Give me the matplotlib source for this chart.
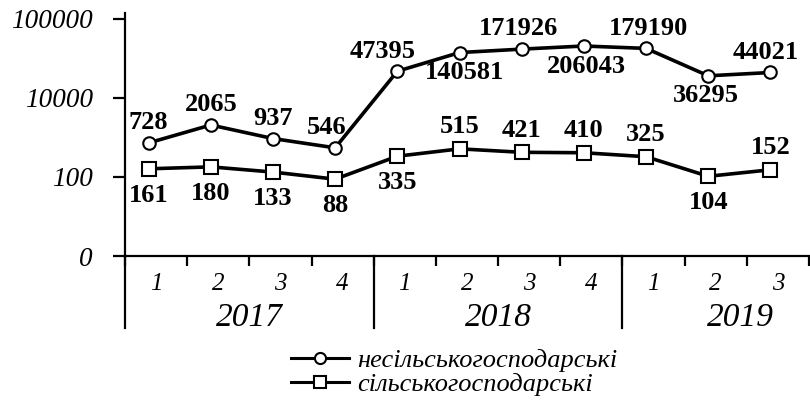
import matplotlib
matplotlib.use("Agg")
import matplotlib.pyplot as plt
from matplotlib.lines import Line2D

plt.rcParams['font.family'] = ['Liberation Serif', 'DejaVu Serif']

quarters = ["1", "2", "3", "4", "1", "2", "3", "4", "1", "2", "3"]
years = ["2017", "2018", "2019"]
year_quarters = [4, 4, 3]
non_agri = [728, 2065, 937, 546, 47395, 140581, 171926, 206043, 179190, 36295, 44021]
agri = [161, 180, 133, 88, 335, 515, 421, 410, 325, 104, 152]
ytick_vals = [1, 100, 10000, 1000000]
ytick_labels = ["0", "100", "10000", "100000"]
series_labels = ["несільськогосподарські", "сільськогосподарські"]

# label placement: +1 above, -1 below
non_agri_pos = [1, 1, 1, 1, 1, -1, 1, -1, 1, -1, 1]
agri_pos = [-1, -1, -1, -1, -1, 1, 1, 1, 1, -1, 1]
non_agri_dx = [0, 0, 0, -9, -15, 5, -3, 2, 2, -2, -5]

W, H = 810, 400
fig = plt.figure(figsize=(W / 100, H / 100), dpi=100)
ax = fig.add_axes([125 / W, (H - 256) / H, 684 / W, (256 - 13) / H])
ax.set_yscale('log')
ax.set_xlim(0, 11)
ax.set_ylim(1, 1.41e6)

xs = [i + 0.38 for i in range(len(quarters))]
ax.plot(xs, non_agri, color='black', lw=2.6, marker='o', ms=9, mfc='white',
        mec='black', mew=1.5, label=series_labels[0], clip_on=False, zorder=3)
ax.plot(xs, agri, color='black', lw=2.6, marker='s', ms=10, mfc='white',
        mec='black', mew=1.5, label=series_labels[1], clip_on=False, zorder=3)

lab_font = dict(fontsize=19, fontweight='bold', ha='center', va='center')
for x, v, p, dx in zip(xs, non_agri, non_agri_pos, non_agri_dx):
    ax.annotate(str(v), (x, v), xytext=(dx * 0.72, p * 14.5), textcoords='offset points', **lab_font)
for x, v, p in zip(xs, agri, agri_pos):
    dy = 16 if p > 0 else -19
    ax.annotate(str(v), (x, v), xytext=(0, dy), textcoords='offset points', **lab_font)

# axes styling
for s in ['top', 'right']:
    ax.spines[s].set_visible(False)
for s in ['left', 'bottom']:
    ax.spines[s].set_linewidth(1.6)
ax.set_yticks(ytick_vals)
ax.set_yticklabels(ytick_labels, fontsize=19.5, fontstyle='italic')
ax.yaxis.set_minor_locator(matplotlib.ticker.NullLocator())
ax.tick_params(axis='y', length=9, width=1.6, pad=14)

ax.set_xticks(range(12))
ax.set_xticklabels([])
ax.tick_params(axis='x', length=7, width=1.6, direction='out')

# quarter labels and year labels
xt = ax.get_xaxis_transform()
for i, q in enumerate(quarters):
    ax.text(i + 0.5, -0.115, q, transform=xt, ha='center', va='center',
            fontsize=18, fontstyle='italic')
start = 0
for y, n in zip(years, year_quarters):
    ax.text(start + 2 - (0.1 if n < 4 else 0), -0.255, y, transform=xt, ha='center', va='center',
            fontsize=24, fontstyle='italic')
    start += n

# long separators below axis
ext = -(328 - 256) / (256 - 13)
for xb in [0, 4, 8]:
    ax.add_line(Line2D([xb, xb], [0, ext], transform=xt, color='black', lw=1.6, clip_on=False))

# legend
leg = fig.legend(loc='upper left', bbox_to_anchor=(291 / W, 1 - 349 / H), frameon=False,
                 prop=dict(size=19, style='italic'), handlelength=2.2, handletextpad=0.3,
                 labelspacing=0.0, borderpad=0, borderaxespad=0)
for h in leg.legend_handles:
    h.set_markersize(8)
    h.set_linewidth(2.2)

fig.savefig('out.png', dpi=100)
